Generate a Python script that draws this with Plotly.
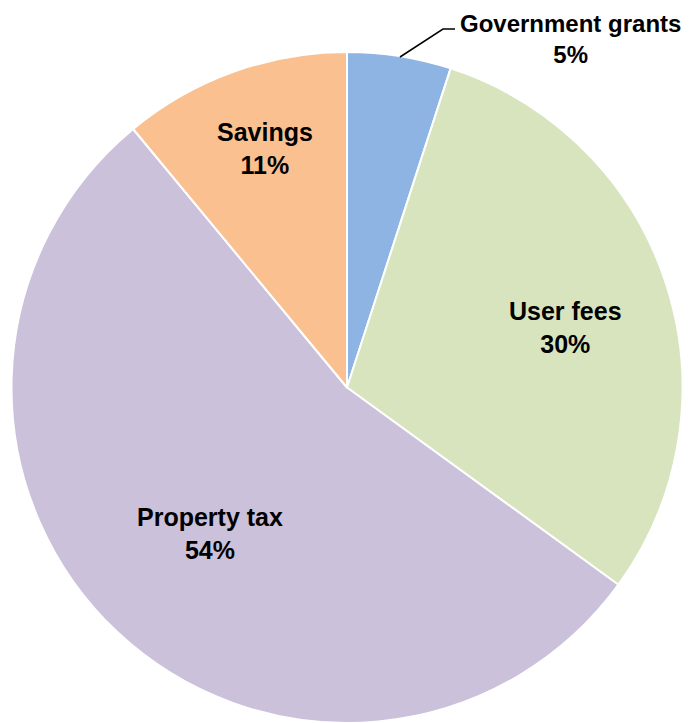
import plotly.graph_objects as go

labels = ["Government grants", "User fees", "Property tax", "Savings"]
values = [5, 30, 54, 11]
colors = ["#8EB4E3", "#D7E4BD", "#CCC1DA", "#FAC090"]

# page has an 8px body margin, so the figure is drawn 8px in from the corner
OFF = 8
W, H = 691 - OFF, 723 - OFF
# label centres in page pixels (x, y from top) and font sizes
label_pos = [(570, 39), (565, 328), (210, 533), (265, 148)]
label_size = [24, 25, 25, 25]


def px(x, y):
    return (x - OFF) / W, 1 - (y - OFF) / H


fig = go.Figure(go.Pie(
    labels=labels,
    values=values,
    sort=False,
    direction="clockwise",
    rotation=0,
    marker=dict(colors=colors, line=dict(color="white", width=2)),
    textinfo="none",
    hoverinfo="label+percent",
    showlegend=False,
    domain=dict(x=[(11 - OFF) / W, (683 - OFF) / W], y=[0, 1 - (52 - OFF) / H]),
))

for lab, val, (x, y), sz in zip(labels, values, label_pos, label_size):
    xp, yp = px(x, y)
    fig.add_annotation(
        x=xp, y=yp, xref="paper", yref="paper",
        xanchor="center", yanchor="middle",
        text="<b>%s<br>%d%%</b>" % (lab, val),
        showarrow=False,
        borderpad=0,
        font=dict(family="Liberation Sans, Arial", size=sz, color="black"),
        align="center",
    )

# leader line for the outside label
p0, p1, p2 = px(400, 57), px(443, 29), px(455, 29)
fig.add_shape(
    type="path", xref="paper", yref="paper",
    path="M %f,%f L %f,%f L %f,%f" % (p0[0], p0[1], p1[0], p1[1], p2[0], p2[1]),
    line=dict(color="black", width=1.5),
)

fig.update_layout(
    width=W, height=H,
    margin=dict(l=0, r=0, t=0, b=0),
    paper_bgcolor="white",
    plot_bgcolor="white",
)

fig.write_html("out.html")
